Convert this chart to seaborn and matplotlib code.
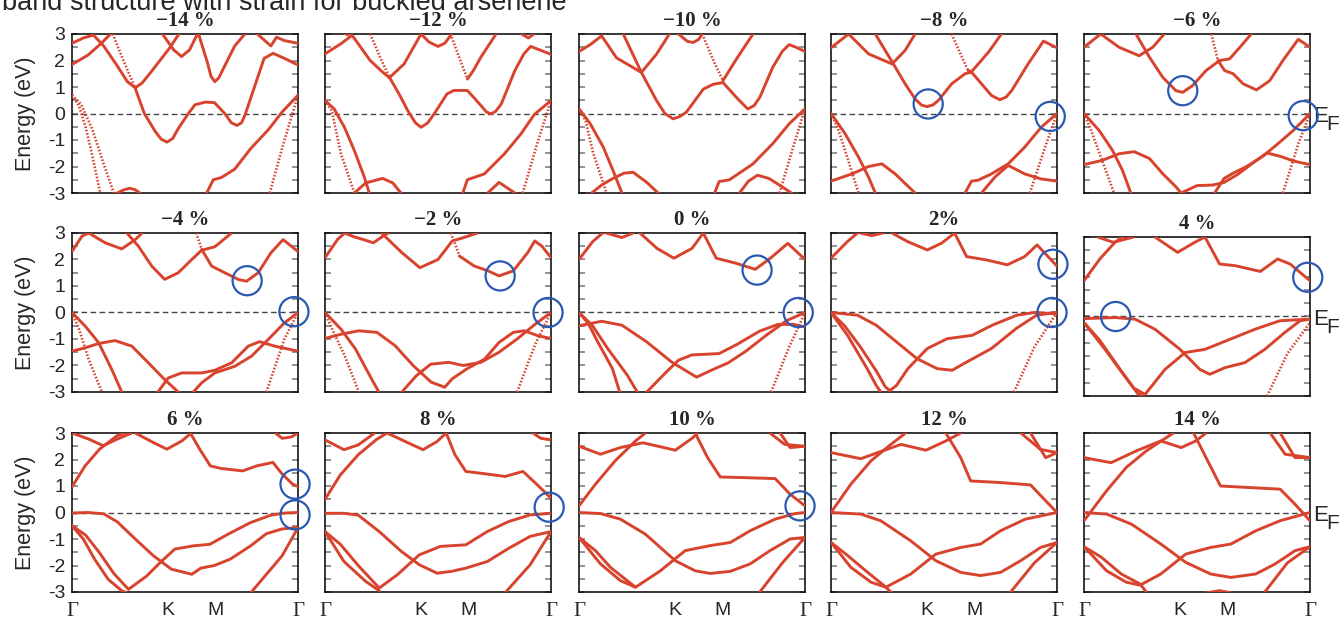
import matplotlib
matplotlib.use("Agg")
import matplotlib.pyplot as plt
import matplotlib.transforms as mtransforms
import numpy as np
import pandas as pd
import seaborn as sns

# panel titles, row by row
strains = ['−14 %', '−12 %', '−10 %', '−8 %', '−6 %',
           '−4 %', '−2 %', '0 %', '2%', '4 %',
           '6 %', '8 %', '10 %', '12 %', '14 %']

# high-symmetry path Γ-K-M-Γ, normalised to 1
kpath_ticks = [0.0, 0.4226, 0.634, 1.0]
kpath_labels = ['Γ', 'K', 'M', 'Γ']
energy_ticks = [3, 2, 1, 0, -1, -2, -3]
energy_labels = ['3', '2', '1', '0', '-1', '-2', '-3']

# bands: each band is a list of (k, E) points
bands_m14 = [
    [(0.0, 1.85), (0.07, 2.2), (0.13, 2.65), (0.17, 3.0), (0.2, 3.3)],
    [(0.0, 2.65), (0.05, 2.85), (0.095, 2.96), (0.14, 2.55), (0.2, 1.8), (0.245, 1.2), (0.28, 0.97),
     (0.31, 1.15), (0.35, 1.57), (0.43, 2.45), (0.47, 2.96), (0.5, 3.3)],
    [(0.28, 0.95), (0.32, 0.0), (0.37, -0.7), (0.395, -0.97), (0.42, -1.08), (0.445, -0.95), (0.47, -0.57),
     (0.515, 0.0), (0.544, 0.33), (0.59, 0.43), (0.63, 0.41), (0.676, 0.0), (0.705, -0.35), (0.73, -0.45),
     (0.75, -0.35), (0.765, -0.07), (0.81, 1.07), (0.85, 2.08), (0.89, 2.27), (0.94, 2.08), (1.0, 1.83)],
    [(0.40, 3.0), (0.45, 2.4), (0.485, 2.15), (0.52, 2.4), (0.555, 3.0)],
    [(0.56, 3.0), (0.6, 1.9), (0.615, 1.4), (0.632, 1.2), (0.65, 1.35), (0.67, 1.7), (0.72, 2.55), (0.765, 3.0)],
    [(0.82, 3.0), (0.86, 2.7), (0.88, 2.55), (0.905, 2.88), (0.94, 2.75), (1.0, 2.65)],
    [(0.596, -3.0), (0.625, -2.5), (0.66, -2.42), (0.72, -2.1), (0.79, -1.33), (0.87, -0.6), (0.93, 0.06),
     (1.0, 0.69)],
    [(0.2, -3.0), (0.23, -2.88), (0.257, -2.82), (0.28, -2.88), (0.3, -3.0)],
]
steep_m14 = [
    [(0.0, 0.69), (0.03, 0.3), (0.06, -0.5), (0.09, -1.6), (0.125, -3.0)],
    [(0.0, 0.69), (0.04, 0.35), (0.09, -0.6), (0.14, -1.9), (0.185, -3.0)],
    [(0.18, 3.0), (0.23, 1.95), (0.28, 0.95)],
    [(0.875, -3.0), (0.93, -1.3), (1.0, 0.69)],
]

bands_m12 = [
    [(0.0, 2.25), (0.07, 2.63), (0.12, 2.95), (0.2, 2.0), (0.25, 1.6), (0.285, 1.35), (0.35, 1.87), (0.425, 3.0)],
    [(0.285, 1.37), (0.33, 0.7), (0.366, 0.11), (0.4, -0.35), (0.425, -0.52), (0.455, -0.35), (0.484, 0.0),
     (0.54, 0.74), (0.57, 0.87), (0.63, 0.87), (0.69, 0.3), (0.715, 0.05), (0.735, -0.01), (0.755, 0.08),
     (0.78, 0.36), (0.84, 1.62), (0.88, 2.25), (0.91, 2.53), (0.95, 2.4), (1.0, 2.23)],
    [(0.425, 3.0), (0.46, 2.7), (0.5, 2.53), (0.53, 2.65), (0.55, 2.88), (0.56, 3.0)],
    [(0.63, 1.3), (0.655, 1.6), (0.69, 2.13), (0.757, 3.0)],
    [(0.87, 3.0), (0.9, 2.85), (0.925, 3.0)],
    [(0.07, 3.1), (0.1, 2.97), (0.13, 3.1)],
    [(0.0, 0.49), (0.04, 0.18), (0.086, -0.52), (0.13, -1.4), (0.174, -2.4), (0.196, -3.0)],
    [(0.13, -3.0), (0.18, -2.62), (0.255, -2.45), (0.3, -2.62), (0.336, -3.0)],
    [(0.61, -3.0), (0.63, -2.5), (0.705, -2.28), (0.794, -1.52), (0.867, -0.77), (0.926, -0.04), (1.0, 0.49)],
    [(0.72, -3.0), (0.77, -2.6), (0.84, -3.0)],
]
steep_m12 = [
    [(0.0, 0.49), (0.03, 0.1), (0.07, -1.5), (0.13, -3.0)],
    [(0.2, 3.0), (0.245, 2.1), (0.285, 1.37)],
    [(0.555, 3.0), (0.59, 2.2), (0.63, 1.3)],
    [(0.875, -3.0), (0.94, -1.1), (1.0, 0.49)],
]

bands_m10 = [
    [(0.0, 2.34), (0.05, 2.6), (0.1, 2.93), (0.166, 2.1), (0.276, 1.55), (0.343, 2.24), (0.4, 3.0)],
    [(0.196, 3.0), (0.24, 2.2), (0.276, 1.55), (0.343, 0.49), (0.38, 0.0), (0.416, -0.2), (0.445, -0.12),
     (0.475, 0.05), (0.55, 0.92), (0.593, 1.1), (0.637, 1.17), (0.696, 0.61), (0.747, 0.17), (0.775, 0.3),
     (0.8, 0.61), (0.857, 1.74), (0.9, 2.35), (0.93, 2.6), (0.96, 2.5), (1.0, 2.34)],
    [(0.44, 3.0), (0.48, 2.72), (0.505, 2.68), (0.53, 2.8), (0.545, 3.0)],
    [(0.637, 1.24), (0.7, 2.1), (0.77, 3.0)],
    [(0.0, 0.18), (0.05, -0.39), (0.107, -1.26), (0.15, -2.14), (0.19, -3.0)],
    [(0.056, -3.0), (0.1, -2.7), (0.15, -2.45), (0.2, -2.25), (0.24, -2.22), (0.3, -2.6), (0.35, -3.0)],
    [(0.6, -3.0), (0.62, -2.57), (0.666, -2.5), (0.77, -1.9), (0.857, -1.14), (0.93, -0.39), (1.0, 0.18)],
    [(0.71, -3.0), (0.75, -2.55), (0.79, -2.33), (0.84, -2.45), (0.887, -2.7), (0.94, -3.0)],
]
steep_m10 = [
    [(0.0, 0.18), (0.03, -0.3), (0.063, -1.5), (0.122, -3.0)],
    [(0.545, 3.0), (0.6, 1.9), (0.637, 1.24)],
    [(0.887, -3.0), (0.95, -1.2), (1.0, 0.18)],
]

bands_m8 = [
    [(0.0, 2.48), (0.078, 3.0), (0.166, 2.25), (0.27, 1.87), (0.328, 2.38), (0.372, 3.0)],
    [(0.196, 3.0), (0.276, 1.87), (0.328, 1.12), (0.372, 0.55), (0.4, 0.32), (0.424, 0.26), (0.45, 0.32),
     (0.475, 0.49), (0.534, 1.12), (0.593, 1.5), (0.622, 1.56), (0.666, 1.12), (0.71, 0.68), (0.747, 0.52),
     (0.775, 0.62), (0.8, 0.87), (0.872, 1.87), (0.94, 2.73), (1.0, 2.48)],
    [(0.607, 1.62), (0.622, 1.58), (0.66, 1.95), (0.7, 2.35), (0.754, 3.0)],
    [(0.0, 0.0), (0.063, -0.77), (0.122, -1.65), (0.166, -2.4), (0.196, -3.0)],
    [(0.0, -2.55), (0.093, -2.28), (0.166, -2.0), (0.225, -1.9), (0.284, -2.28), (0.372, -3.0)],
    [(0.593, -3.0), (0.622, -2.55), (0.65, -2.52), (0.71, -2.28), (0.784, -1.9), (0.857, -1.27), (0.93, -0.52),
     (1.0, 0.0)],
    [(0.666, -3.0), (0.725, -2.4), (0.784, -1.96), (0.857, -2.28), (0.93, -2.47), (1.0, -2.55)],
]
steep_m8 = [
    [(0.0, 0.0), (0.03, -0.55), (0.07, -1.6), (0.122, -3.0)],
    [(0.534, 3.0), (0.57, 2.3), (0.607, 1.62)],
    [(0.88, -3.0), (0.95, -1.2), (1.0, 0.0)],
]

bands_m6 = [
    [(0.0, 2.5), (0.074, 3.0), (0.155, 2.5), (0.244, 2.18), (0.304, 2.5), (0.355, 3.0)],
    [(0.23, 3.0), (0.29, 2.12), (0.348, 1.37), (0.407, 0.86), (0.437, 0.8), (0.48, 1.05), (0.54, 1.62),
     (0.6, 2.0), (0.644, 2.06), (0.69, 2.5), (0.74, 3.0)],
    [(0.593, 2.0), (0.622, 1.62), (0.66, 1.5), (0.704, 1.12), (0.763, 0.89), (0.822, 1.24), (0.88, 2.0),
     (0.948, 2.8), (1.0, 2.5)],
    [(0.0, 0.0), (0.067, -0.64), (0.126, -1.39), (0.17, -2.14), (0.207, -3.0)],
    [(0.0, -1.93), (0.08, -1.77), (0.155, -1.52), (0.222, -1.44), (0.29, -1.7), (0.348, -2.27), (0.407, -2.77),
     (0.43, -3.0)],
    [(0.578, -3.0), (0.62, -2.45), (0.66, -2.25), (0.72, -2.0), (0.79, -1.62), (0.85, -1.2), (0.926, -0.64),
     (1.0, 0.0)],
    [(0.43, -3.0), (0.5, -2.72), (0.57, -2.7), (0.62, -2.6), (0.68, -2.3), (0.75, -1.85), (0.81, -1.49),
     (0.87, -1.62), (0.93, -1.8), (1.0, -1.93)],
]
steep_m6 = [
    [(0.0, 0.0), (0.03, -0.6), (0.08, -1.77), (0.133, -3.0)],
    [(0.563, 3.0), (0.578, 2.5), (0.593, 2.0)],
    [(0.88, -3.0), (0.95, -1.1), (1.0, 0.0)],
]

bands_m4 = [
    [(0.0, 2.3), (0.044, 2.88), (0.074, 3.0), (0.147, 2.63), (0.22, 2.4), (0.28, 2.75), (0.31, 3.0)],
    [(0.243, 3.0), (0.294, 2.5), (0.353, 1.75), (0.41, 1.25), (0.47, 1.5), (0.53, 2.0), (0.574, 2.35),
     (0.632, 2.48), (0.706, 3.0)],
    [(0.574, 2.38), (0.618, 1.75), (0.676, 1.5), (0.735, 1.25), (0.772, 1.18), (0.824, 1.5), (0.88, 2.25),
     (0.934, 2.75), (1.0, 2.3)],
    [(0.0, 0.0), (0.059, -0.52), (0.118, -1.14), (0.176, -2.15), (0.22, -3.0)],
    [(0.0, -1.46), (0.059, -1.33), (0.118, -1.17), (0.19, -1.06), (0.265, -1.27), (0.338, -1.9), (0.41, -2.53),
     (0.47, -3.0)],
    [(0.38, -3.0), (0.426, -2.47), (0.485, -2.28), (0.574, -2.28), (0.632, -2.18), (0.706, -1.9), (0.78, -1.27),
     (0.83, -1.1), (0.897, -1.27), (1.0, -1.46)],
    [(0.537, -3.0), (0.574, -2.65), (0.632, -2.28), (0.72, -2.03), (0.794, -1.65), (0.868, -1.02),
     (0.94, -0.39), (1.0, 0.0)],
]
steep_m4 = [
    [(0.0, 0.0), (0.03, -0.6), (0.074, -1.77), (0.132, -3.0)],
    [(0.55, 3.0), (0.574, 2.38)],
    [(0.86, -3.0), (0.94, -1.0), (1.0, 0.0)],
]

bands_m2 = [
    [(0.0, 2.07), (0.056, 2.76), (0.087, 3.0), (0.13, 2.85), (0.167, 2.76), (0.214, 2.63), (0.26, 2.9),
     (0.28, 3.0)],
    [(0.25, 3.0), (0.34, 2.26), (0.42, 1.69), (0.5, 2.0), (0.563, 2.7), (0.611, 2.82), (0.675, 3.0)],
    [(0.595, 2.13), (0.659, 1.76), (0.722, 1.57), (0.77, 1.38), (0.833, 1.57), (0.897, 2.26), (0.928, 2.7),
     (0.96, 2.5), (1.0, 2.07)],
    [(0.0, 0.0), (0.071, -0.63), (0.135, -1.38), (0.198, -2.38), (0.238, -3.0)],
    [(0.0, -0.98), (0.071, -0.82), (0.15, -0.69), (0.23, -0.75), (0.31, -1.25), (0.39, -2.0), (0.47, -2.63),
     (0.53, -2.82), (0.563, -2.5), (0.627, -2.13), (0.706, -1.76), (0.77, -1.13), (0.833, -0.75),
     (0.88, -0.69), (0.944, -0.88), (1.0, -0.98)],
    [(0.34, -3.0), (0.405, -2.38), (0.468, -1.95), (0.548, -1.88), (0.611, -2.0), (0.69, -1.88), (0.77, -1.5),
     (0.85, -1.0), (0.93, -0.44), (1.0, 0.0)],
]
steep_m2 = [
    [(0.0, 0.0), (0.03, -0.6), (0.087, -1.63), (0.15, -3.0)],
    [(0.556, 3.0), (0.575, 2.6), (0.595, 2.13)],
    [(0.85, -3.0), (0.93, -1.2), (1.0, 0.0)],
]

bands_0 = [
    [(0.0, 2.0), (0.061, 2.68), (0.105, 3.0)],
    [(0.12, 3.0), (0.19, 2.83), (0.24, 3.0)],
    [(0.27, 3.0), (0.345, 2.42), (0.42, 2.05), (0.5, 2.42), (0.55, 3.0), (0.607, 2.05), (0.694, 1.86),
     (0.78, 1.63), (0.847, 2.05), (0.924, 2.61), (1.0, 2.0)],
    [(0.0, 0.0), (0.04, -0.4), (0.083, -1.11), (0.148, -2.12), (0.18, -3.0)],
    [(0.0, 0.0), (0.06, -0.5), (0.127, -1.36), (0.214, -2.37), (0.258, -3.0)],
    [(0.0, -0.5), (0.1, -0.33), (0.19, -0.48), (0.3, -1.11), (0.41, -1.87), (0.52, -2.44), (0.58, -2.2),
     (0.66, -1.9), (0.74, -1.45), (0.83, -0.85), (0.92, -0.3), (1.0, 0.0)],
    [(0.3, -3.0), (0.38, -2.3), (0.44, -1.8), (0.5, -1.6), (0.62, -1.55), (0.7, -1.2), (0.8, -0.7),
     (0.88, -0.45), (0.95, -0.45), (1.0, -0.55)],
]
steep_0 = [
    [(0.85, -3.0), (0.93, -1.3), (1.0, 0.0)],
]

bands_2 = [
    [(0.0, 2.05), (0.073, 2.68), (0.117, 3.0)],
    [(0.13, 3.0), (0.18, 2.9), (0.23, 3.0)],
    [(0.27, 3.0), (0.338, 2.68), (0.426, 2.36), (0.49, 2.62), (0.547, 3.0), (0.6, 2.11), (0.69, 1.98),
     (0.78, 1.8), (0.857, 2.11), (0.912, 2.55), (1.0, 1.75)],
    [(0.0, 0.0), (0.117, -0.1), (0.2, -0.48), (0.29, -1.11), (0.38, -1.74), (0.47, -2.12), (0.536, -2.18),
     (0.6, -1.87), (0.71, -1.36), (0.82, -0.6), (0.91, -0.1), (1.0, 0.0)],
    [(0.0, 0.0), (0.073, -0.86), (0.16, -2.12), (0.2, -2.75), (0.22, -3.0)],
    [(0.0, 0.0), (0.06, -0.5), (0.13, -1.3), (0.2, -2.2), (0.24, -2.8), (0.26, -2.95), (0.29, -2.75),
     (0.34, -2.12), (0.426, -1.36), (0.514, -0.99), (0.625, -0.86), (0.713, -0.48), (0.823, -0.1),
     (0.9, 0.0), (1.0, -0.05)],
]
steep_2 = [
    [(0.81, -3.0), (0.9, -1.3), (1.0, 0.0)],
]

bands_4 = [
    [(0.0, 1.35), (0.07, 2.17), (0.137, 2.8), (0.17, 3.0)],
    [(0.06, 3.0), (0.13, 2.8), (0.22, 3.0)],
    [(0.314, 3.0), (0.414, 2.42), (0.49, 2.8), (0.535, 3.0), (0.6, 1.98), (0.668, 1.92), (0.78, 1.7),
     (0.857, 2.17), (0.912, 1.98), (1.0, 1.35)],
    [(0.0, -0.08), (0.137, -0.04), (0.226, -0.1), (0.314, -0.48), (0.425, -1.24), (0.513, -2.0),
     (0.557, -2.18), (0.624, -1.93), (0.712, -1.74), (0.8, -1.24), (0.889, -0.6), (0.956, -0.16), (1.0, -0.1)],
    [(0.0, -0.23), (0.093, -1.24), (0.18, -2.25), (0.237, -2.9), (0.26, -3.0)],
    [(0.0, -0.23), (0.07, -0.9), (0.16, -2.0), (0.22, -2.7), (0.27, -2.94), (0.358, -2.0), (0.447, -1.36),
     (0.535, -1.24), (0.646, -0.86), (0.757, -0.48), (0.867, -0.16), (1.0, -0.1)],
]
steep_4 = [
    [(0.81, -3.0), (0.9, -1.4), (1.0, -0.23)],
]

bands_6 = [
    [(0.0, 0.97), (0.058, 1.76), (0.122, 2.39), (0.2, 2.9), (0.233, 3.0)],
    [(0.0, 3.0), (0.074, 2.77), (0.138, 2.52), (0.2, 2.77), (0.264, 3.0)],
    [(0.28, 3.0), (0.36, 2.64), (0.42, 2.39), (0.486, 2.7), (0.525, 2.98), (0.565, 2.39), (0.612, 1.76),
     (0.66, 1.66), (0.755, 1.57), (0.818, 1.76), (0.889, 1.89), (0.93, 1.45), (0.976, 1.07), (1.0, 0.98)],
    [(0.9, 3.0), (0.93, 2.8), (0.97, 2.85), (1.0, 3.0)],
    [(0.0, -0.02), (0.07, 0.0), (0.14, -0.05), (0.2, -0.35), (0.28, -1.0), (0.36, -1.63), (0.44, -2.14),
     (0.53, -2.33), (0.57, -2.1), (0.63, -2.0), (0.7, -1.76), (0.79, -1.26), (0.86, -0.8), (0.93, -0.62),
     (1.0, -0.57)],
    [(0.0, -0.5), (0.06, -0.85), (0.12, -1.5), (0.185, -2.3), (0.25, -2.9), (0.33, -2.4), (0.39, -1.89),
     (0.455, -1.38), (0.535, -1.26), (0.61, -1.2), (0.69, -0.82), (0.79, -0.38), (0.88, -0.1), (0.94, -0.02),
     (1.0, 0.0)],
    [(0.0, -0.5), (0.05, -1.0), (0.1, -1.76), (0.16, -2.52), (0.22, -2.95), (0.26, -3.1)],
    [(0.794, -3.0), (0.93, -1.63), (1.0, -0.57)],
]

bands_8 = [
    [(0.0, 0.5), (0.068, 1.42), (0.147, 2.18), (0.227, 2.75), (0.274, 3.0)],
    [(0.0, 2.74), (0.084, 2.37), (0.147, 2.55), (0.22, 3.0)],
    [(0.274, 3.0), (0.37, 2.62), (0.434, 2.37), (0.496, 2.68), (0.536, 3.0), (0.575, 2.18), (0.623, 1.55),
     (0.718, 1.45), (0.797, 1.36), (0.876, 1.55), (0.94, 1.04), (1.0, 0.54)],
    [(0.92, 3.0), (0.955, 2.8), (1.0, 2.74)],
    [(0.0, -0.03), (0.084, -0.03), (0.147, -0.1), (0.24, -0.72), (0.338, -1.47), (0.417, -1.97),
     (0.496, -2.29), (0.56, -2.22), (0.623, -2.1), (0.718, -1.85), (0.813, -1.35), (0.908, -0.9), (1.0, -0.72)],
    [(0.0, -0.72), (0.068, -1.2), (0.147, -2.0), (0.24, -2.85), (0.32, -2.35), (0.417, -1.6), (0.51, -1.28),
     (0.623, -1.22), (0.718, -0.72), (0.813, -0.34), (0.908, -0.09), (1.0, -0.03)],
    [(0.0, -0.72), (0.084, -1.85), (0.18, -2.6), (0.24, -2.95)],
    [(0.8, -3.0), (0.908, -1.97), (1.0, -0.72)],
]

bands_10 = [
    [(0.0, 0.25), (0.073, 1.07), (0.16, 1.95), (0.25, 2.7), (0.294, 3.0)],
    [(0.0, 2.5), (0.095, 2.2), (0.183, 2.45), (0.283, 2.63), (0.35, 2.5), (0.426, 2.35), (0.503, 2.82),
     (0.525, 3.0)],
    [(0.514, 3.0), (0.569, 2.07), (0.625, 1.34), (0.713, 1.32), (0.868, 1.28), (0.934, 0.69), (1.0, 0.25)],
    [(0.845, 3.0), (0.91, 2.57), (1.0, 2.5)],
    [(0.89, 3.0), (0.934, 2.45), (1.0, 2.5)],
    [(0.0, 0.0), (0.095, -0.04), (0.183, -0.25), (0.294, -0.82), (0.426, -1.82), (0.514, -2.2), (0.58, -2.3),
     (0.67, -2.22), (0.757, -1.94), (0.845, -1.44), (0.934, -1.0), (1.0, -0.94)],
    [(0.0, -0.94), (0.073, -1.44), (0.139, -2.07), (0.25, -2.82), (0.36, -2.2), (0.47, -1.44), (0.58, -1.25),
     (0.67, -1.13), (0.757, -0.69), (0.868, -0.25), (0.956, -0.04), (1.0, 0.0)],
    [(0.0, -0.94), (0.095, -1.94), (0.183, -2.57), (0.25, -2.82)],
    [(0.8, -3.0), (0.9, -1.9), (1.0, -0.94)],
]

bands_12 = [
    [(0.0, 0.0), (0.088, 1.07), (0.177, 1.95), (0.265, 2.57), (0.33, 3.0)],
    [(0.0, 2.26), (0.132, 2.03), (0.22, 2.3), (0.31, 2.57), (0.42, 2.35), (0.508, 2.7), (0.574, 3.0)],
    [(0.508, 3.0), (0.574, 2.07), (0.618, 1.19), (0.75, 1.13), (0.883, 1.04), (0.95, 0.44), (1.0, 0.0)],
    [(0.84, 3.0), (0.927, 2.38), (1.0, 2.26)],
    [(0.883, 3.0), (0.95, 2.07), (1.0, 2.26)],
    [(0.0, 0.0), (0.132, -0.06), (0.22, -0.31), (0.353, -1.07), (0.464, -1.82), (0.574, -2.26),
     (0.662, -2.38), (0.75, -2.26), (0.839, -1.82), (0.927, -1.32), (1.0, -1.13)],
    [(0.0, -1.13), (0.066, -1.57), (0.154, -2.2), (0.243, -2.82), (0.353, -2.32), (0.464, -1.57),
     (0.574, -1.32), (0.662, -1.19), (0.75, -0.69), (0.86, -0.25), (1.0, 0.0)],
    [(0.0, -1.13), (0.088, -2.07), (0.177, -2.63), (0.243, -2.82), (0.27, -3.05)],
    [(0.795, -3.0), (0.9, -1.9), (1.0, -1.13)],
]

bands_14 = [
    [(0.0, -0.31), (0.033, 0.06), (0.1, 0.82), (0.187, 1.7), (0.275, 2.32), (0.363, 2.82), (0.396, 3.0)],
    [(0.0, 2.07), (0.12, 1.88), (0.23, 2.32), (0.34, 2.7), (0.43, 2.45), (0.495, 2.7), (0.54, 3.0)],
    [(0.485, 3.0), (0.54, 2.07), (0.604, 1.0), (0.78, 0.92), (0.868, 0.88), (0.934, 0.31), (1.0, -0.31)],
    [(0.824, 3.0), (0.89, 2.2), (1.0, 2.07)],
    [(0.868, 3.0), (0.934, 2.07), (1.0, 2.07)],
    [(0.0, 0.0), (0.1, -0.06), (0.21, -0.44), (0.34, -1.19), (0.45, -1.88), (0.56, -2.32), (0.65, -2.45),
     (0.76, -2.32), (0.846, -1.94), (0.934, -1.44), (1.0, -1.29)],
    [(0.0, -1.29), (0.077, -1.69), (0.165, -2.32), (0.253, -2.72), (0.34, -2.32), (0.45, -1.57), (0.56, -1.32),
     (0.65, -1.19), (0.76, -0.69), (0.868, -0.31), (1.0, 0.0)],
    [(0.0, -1.29), (0.1, -2.2), (0.187, -2.63), (0.253, -2.75), (0.28, -3.05)],
    [(0.8, -3.0), (0.9, -1.9), (1.0, -1.29)],
    [(0.53, -3.05), (0.6, -2.95), (0.66, -3.05)],
]

all_bands = [bands_m14, bands_m12, bands_m10, bands_m8, bands_m6,
             bands_m4, bands_m2, bands_0, bands_2, bands_4,
             bands_6, bands_8, bands_10, bands_12, bands_14]
all_steep = [steep_m14, steep_m12, steep_m10, steep_m8, steep_m6,
             steep_m4, steep_m2, steep_0, steep_2, steep_4,
             [], [], [], [], []]

# blue circles marking band edges: panel index, k, E
circle_panel = [3, 3, 4, 4, 5, 5, 6, 6, 7, 7, 8, 8, 9, 9, 10, 10, 11, 12]
circle_k = [0.43, 0.97, 0.437, 0.97, 0.775, 0.982, 0.775, 0.987, 0.788, 0.97,
            0.982, 0.978, 0.14, 0.99, 0.987, 0.987, 0.992, 0.978]
circle_e = [0.36, -0.11, 0.86, -0.08, 1.2, 0.03, 1.38, 0.0, 1.6, 0.0,
            1.82, 0.0, 0.0, 1.48, 1.07, -0.09, 0.2, 0.25]

RED = '#d8432e'
BLUE = '#2b58b3'

sns.set_theme(style='white')
plt.rcParams['font.family'] = ['Liberation Sans', 'DejaVu Sans']


def band_frame(bands):
    rows = []
    for i, band in enumerate(bands):
        for k, e in band:
            rows.append((i, k, e))
    return pd.DataFrame(rows, columns=['band', 'k', 'E'])


W, H = 1341, 620
fig = plt.figure(figsize=(W / 100, H / 100), dpi=100)
fig.patch.set_facecolor('white')

col_left = [72, 325, 579, 831, 1084]
row_top = [34, 233, 433]
pw, ph = 226, 159

fig.text(2 / W, 1 - 10.5 / H, 'band structure with strain for buckled arsenene',
         fontsize=19.5, ha='left', va='baseline')

for idx, (label, bands, steep) in enumerate(zip(strains, all_bands, all_steep)):
    r, c = divmod(idx, 5)
    top = row_top[r] + (4 if idx == 9 else 0)
    ax = fig.add_axes([col_left[c] / W, 1 - (top + ph) / H, pw / W, ph / H])
    ax.set_facecolor('white')
    ax.axhline(0, color='#444444', lw=1.0, ls=(0, (4, 2.5)), zorder=1)

    sns.lineplot(data=band_frame(bands), x='k', y='E', units='band', estimator=None, sort=False,
                 color=RED, lw=2.1, ax=ax, legend=False, zorder=3)
    if steep:
        sns.lineplot(data=band_frame(steep), x='k', y='E', units='band', estimator=None, sort=False,
                     color=RED, lw=1.9, linestyle=(0, (0.6, 0.7)), ax=ax, legend=False, zorder=3)

    sel = [i for i, p in enumerate(circle_panel) if p == idx]
    if sel:
        ax.scatter([circle_k[i] for i in sel], [circle_e[i] for i in sel], s=440, marker='o',
                   facecolors='none', edgecolors=BLUE, linewidths=1.6, clip_on=False, zorder=5)

    ax.set_xlim(0, 1)
    ax.set_ylim(-3, 3)
    ax.set_xlabel('')
    ax.set_ylabel('')
    ax.set_yticks(energy_ticks)
    ax.set_yticks(np.arange(-2.5, 3, 1.0), minor=True)
    ax.tick_params(axis='y', which='both', direction='in', left=True, right=True,
                   length=4, width=1.2, color='#808080', labelsize=14, pad=5)
    if c == 0:
        ax.set_yticklabels(energy_labels)
        ax.set_ylabel('Energy (eV)', fontsize=15.5)
        ax.yaxis.set_label_coords(-0.16, 0.5)
    else:
        ax.tick_params(axis='y', labelleft=False)

    if r == 2:
        ax.set_xticks(kpath_ticks)
        ax.set_xticklabels(kpath_labels)
        for t, lab in zip(ax.get_xticklabels(), kpath_labels):
            t.set_fontsize(15 if lab == 'Γ' else 14)
            if lab == 'Γ':
                t.set_family(['Liberation Serif', 'DejaVu Serif'])
        ax.tick_params(axis='x', length=0, pad=7.5)
    else:
        ax.set_xticks([])

    for sp in ax.spines.values():
        sp.set_visible(True)
        sp.set_color('black')
        sp.set_linewidth(1.1)

    ax.set_title(label, fontsize=15, fontweight='bold', family=['Liberation Serif', 'DejaVu Serif'], pad=6)

    if c == 4:
        trans = mtransforms.blended_transform_factory(ax.transAxes, ax.transData)
        ax.text(1.013, -0.32, 'E', transform=trans, fontsize=16,
                ha='left', va='baseline', clip_on=False)
        ax.text(1.072, -0.64, 'F', transform=trans, fontsize=15,
                ha='left', va='baseline', clip_on=False)

fig.savefig('out.png', dpi=100, facecolor='white')
